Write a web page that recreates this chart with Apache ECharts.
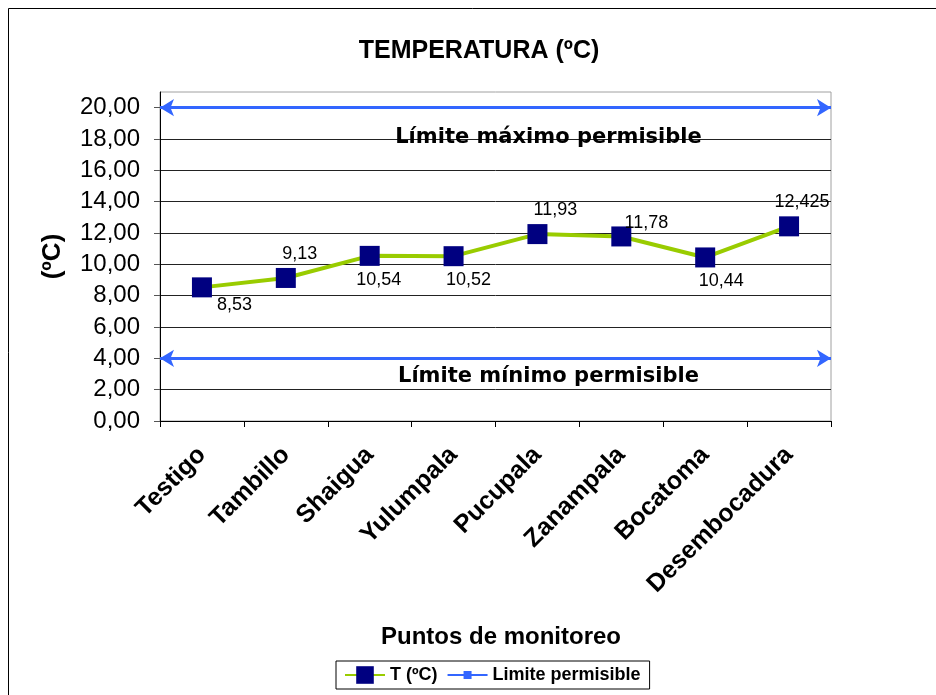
<!DOCTYPE html>
<html>
<head>
<meta charset="utf-8">
<script src="https://cdn.jsdelivr.net/npm/echarts@6/dist/echarts.min.js"></script>
<style>html,body{margin:0;padding:0;background:#fff;}#c{width:936px;height:695px;}</style>
</head>
<body>
<div id="c"></div>
<script>
const categories = ['Testigo', 'Tambillo', 'Shaigua', 'Yulumpala', 'Pucupala', 'Zanampala', 'Bocatoma', 'Desembocadura'];
const temperature = [8.53, 9.13, 10.54, 10.52, 11.93, 11.78, 10.44, 12.425];
const limitMax = 20;
const limitMin = 4;
const yTicks = [0, 2, 4, 6, 8, 10, 12, 14, 16, 18, 20];

const F = '"Liberation Sans", Arial, sans-serif';
const comma = v => String(v).replace('.', ',');

// label placement per point (style only)
const labelCfg = [
  {position: 'right', offset: [0, 18]},
  {position: 'top', offset: [14, 0]},
  {position: 'bottom', offset: [9, 0]},
  {position: 'bottom', offset: [15, 0]},
  {position: 'top', offset: [18, 0]},
  {position: 'top', offset: [25, 11]},
  {position: 'bottom', offset: [16, 0]},
  {position: 'top', offset: [13, 0]}
];

const chart = echarts.init(document.getElementById('c'));
chart.setOption({
  backgroundColor: '#fff',
  animation: false,
  graphic: [{
    type: 'rect', z: -10, silent: true,
    shape: {x: 8.5, y: 8.5, width: 1000, height: 1000},
    style: {fill: 'none', stroke: '#000', lineWidth: 1}
  }],
  title: [
    {text: 'TEMPERATURA (ºC)', left: 474, textAlign: 'center', top: 34,
     textStyle: {fontFamily: F, fontWeight: 'bold', fontSize: 25, color: '#000'}},
    {text: 'Puntos de monitoreo', left: 496, textAlign: 'center', top: 620,
     textStyle: {fontFamily: F, fontWeight: 'bold', fontSize: 24, color: '#000'}}
  ],
  legend: {
    left: 336, top: 661,
    itemWidth: 40, itemHeight: 22, itemGap: 10,
    padding: [5, 9, 5, 8],
    borderColor: '#000', borderWidth: 1,
    textStyle: {fontFamily: F, fontWeight: 'bold', fontSize: 18, color: '#000'},
    data: [
      {name: 'T (ºC)'},
      {name: 'Limite permisible', icon: 'path://M0,9h40v2h-40z M16,6h8v8h-8z', itemStyle: {color: '#3366ff'}}
    ]
  },
  grid: {left: 160, right: 105, top: 92, bottom: 274, show: true, borderColor: '#a0a0a0', borderWidth: 1, backgroundColor: '#fff'},
  xAxis: {
    type: 'category', data: categories, boundaryGap: true,
    axisLine: {lineStyle: {color: '#000', width: 1}},
    axisTick: {show: true, length: 6, lineStyle: {color: '#000'}},
    axisLabel: {rotate: 45, interval: 0, margin: 30, fontFamily: F, fontWeight: 'bold', fontSize: 25, color: '#000'},
    splitLine: {show: false}
  },
  yAxis: {
    type: 'value', min: 0, max: 21, interval: 2,
    name: '(ºC)', nameLocation: 'middle', nameGap: 94, nameRotate: 90,
    nameTextStyle: {fontFamily: F, fontWeight: 'bold', fontSize: 26, color: '#000'},
    axisLine: {show: true, lineStyle: {color: '#000', width: 1}},
    axisTick: {show: true, length: 6, lineStyle: {color: '#555'}, customValues: yTicks},
    axisLabel: {customValues: yTicks, margin: 20, fontFamily: F, fontSize: 24, color: '#000',
      formatter: v => v.toFixed(2).replace('.', ',')},
    splitLine: {show: true, lineStyle: {color: '#222', width: 1}}
  },
  series: [
    {
      name: 'T (ºC)', type: 'line', data: temperature.map((v, i) => ({value: v, label: labelCfg[i]})),
      symbol: 'rect', symbolSize: 20, z: 5,
      lineStyle: {color: '#99cc00', width: 4},
      itemStyle: {color: '#000080'},
      label: {show: true, fontFamily: F, fontSize: 18, color: '#000', distance: 5, formatter: p => comma(p.value)}
    },
    {
      name: 'Limite permisible', type: 'line', data: [],
      symbol: 'rect', itemStyle: {color: '#3366ff'}, lineStyle: {color: '#3366ff', width: 2},
      markLine: {
        silent: true, symbol: ['arrow', 'arrow'], symbolSize: [13, 14],
        lineStyle: {color: '#3366ff', width: 3, type: 'solid'},
        data: [
          {yAxis: limitMax, label: {formatter: 'Límite máximo permisible', distance: 19}},
          {yAxis: limitMin, label: {formatter: 'Límite mínimo permisible', distance: 8}}
        ],
        label: {show: true, position: 'insideMiddleBottom', offset: [53, 0],
          fontFamily: '"DejaVu Sans", Verdana, sans-serif', fontWeight: 'bold', fontSize: 21, color: '#000'}
      }
    }
  ]
});
</script>
</body>
</html>
